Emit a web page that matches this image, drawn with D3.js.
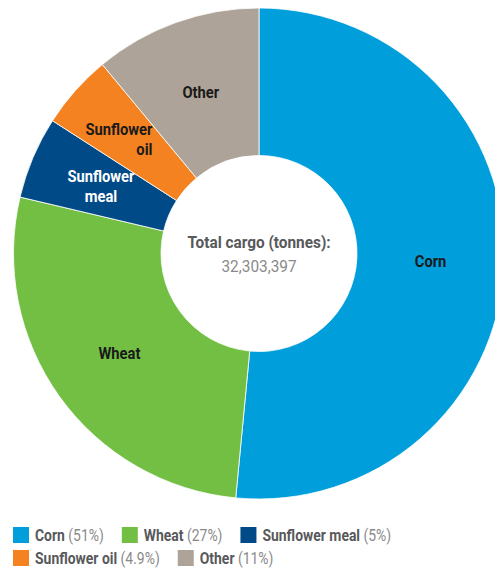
<!DOCTYPE html>
<html>
<head>
<meta charset="utf-8">
<script src="https://cdn.jsdelivr.net/npm/d3@7/dist/d3.min.js"></script>
<style>
  html, body { margin: 0; padding: 0; background: #fff; }
  svg { display: block; font-family: Roboto, "Noto Sans", sans-serif; }
</style>
</head>
<body>
<svg id="chart" width="495" height="569"></svg>
<script>
// ---- data ----
const categories = ["Corn", "Wheat", "Sunflower meal", "Sunflower oil", "Other"];
const tonnes = [16640000, 8780000, 1745000, 1580000, 3558397];
const legendPct = ["51%", "27%", "5%", "4.9%", "11%"];
const sliceLabelLines = [["Corn"], ["Wheat"], ["Sunflower", "meal"], ["Sunflower", "oil"], ["Other"]];
const colors = ["#009edb", "#72bf44", "#004a87", "#f58220", "#aea398"];
const labelColors = ["#1a1a1a", "#1a1a1a", "#ffffff", "#1a1a1a", "#1a1a1a"];
const totalLabel = "Total cargo (tonnes):";
const totalValue = d3.format(",")(d3.sum(tonnes));

// ---- layout ----
const svg = d3.select("#chart");
const cx = 259, cy = 253.5, outerR = 245.5, innerR = 98;
const SX = 0.92;  // slice label condensing
const CSX = 0.96; // centre text condensing

const pie = d3.pie().sort(null).value(d => d.v);
const arcs = pie(categories.map((c, i) => ({ c, v: tonnes[i], i })));
const arc = d3.arc().innerRadius(innerR).outerRadius(outerR);

const g = svg.append("g").attr("transform", `translate(${cx},${cy})`);
g.selectAll("path.slice").data(arcs).join("path")
  .attr("class", "slice")
  .attr("d", arc)
  .attr("fill", d => colors[d.data.i])
  .attr("stroke", "#ffffff")
  .attr("stroke-opacity", 0.8)
  .attr("stroke-width", 1);

// slice labels
const lineH = 20;
const labG = g.selectAll("g.lab").data(arcs).join("g")
  .attr("class", "lab")
  .attr("transform", d => {
    const [x, y] = arc.centroid(d);
    const dx = d.data.c === "Sunflower oil" ? 22 : 0;
    return `translate(${x + dx},${y})`;
  });
labG.each(function(d) {
  const lines = sliceLabelLines[d.data.i];
  const t = d3.select(this).append("text")
    .attr("transform", `scale(${SX},1)`)
    .attr("font-size", 16)
    .attr("font-weight", 700)
    .attr("fill", labelColors[d.data.i])
    .attr("text-anchor", d.data.c === "Sunflower oil" ? "end" : "middle");
  lines.forEach((ln, k) => {
    t.append("tspan")
      .attr("x", 0)
      .attr("y", (k - (lines.length - 1) / 2) * lineH)
      .attr("dy", "0.35em")
      .text(ln);
  });
});

// centre text
const cg = g.append("g").attr("transform", `scale(${CSX},1)`);
cg.append("text").attr("text-anchor", "middle").attr("y", -11).attr("dy", "0.35em")
  .attr("font-size", 16).attr("font-weight", 700).attr("fill", "#58595b")
  .text(totalLabel);
cg.append("text").attr("text-anchor", "middle").attr("y", 13).attr("dy", "0.35em")
  .attr("font-size", 16).attr("fill", "#8a8a8a")
  .text(totalValue);

// ---- legend (flow layout) ----
const LSX = 0.82;
const legend = svg.append("g");
const startX = 13, rowY = [535, 558], sq = 16, maxX = 490;
let x = startX, row = 0;
categories.forEach((c, i) => {
  const item = legend.append("g");
  item.append("rect").attr("width", sq).attr("height", sq).attr("y", -sq / 2).attr("fill", colors[i]);
  const t = item.append("text")
    .attr("transform", `translate(${sq + 6},0) scale(${LSX},1)`)
    .attr("dy", "0.35em").attr("font-size", 17);
  t.append("tspan").attr("font-weight", 700).attr("fill", "#58595b").text(c);
  t.append("tspan").attr("fill", "#8a8a8a").text(" (" + legendPct[i] + ")");
  const w = sq + 6 + t.node().getComputedTextLength() * LSX;
  if (x + w > maxX && x > startX) { row += 1; x = startX; }
  item.attr("transform", `translate(${x},${rowY[row]})`);
  x += w + 18;
});
</script>
</body>
</html>
